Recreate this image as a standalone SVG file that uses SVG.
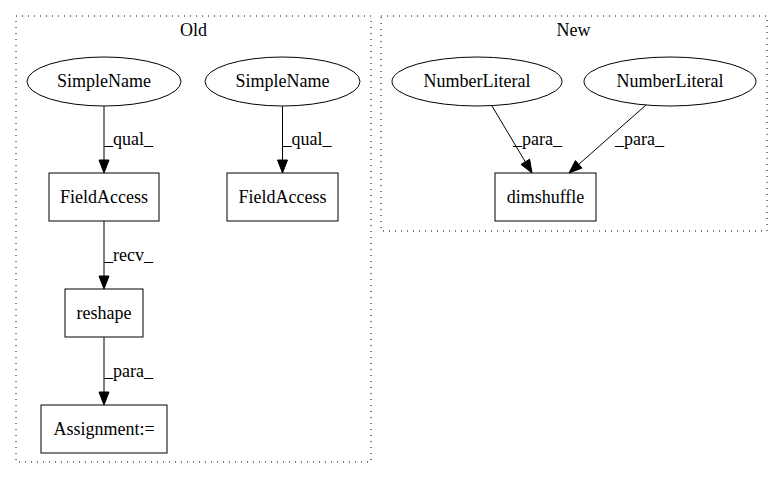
<svg xmlns="http://www.w3.org/2000/svg" width="783" height="480" viewBox="0 0 783 480">
<style>
text{font-family:"Liberation Serif","Times New Roman",serif;font-size:18px;fill:#000}
.c{text-anchor:middle}
.cl{fill:none;stroke:#000;stroke-dasharray:1,5}
.n{fill:none;stroke:#000;stroke-width:1}
.e{fill:none;stroke:#000;stroke-width:1}
.a{fill:#000;stroke:#000}
</style>
<rect width="783" height="480" fill="#fff"/>
<g id="cluster_old">
<rect class="cl" x="16" y="16" width="355" height="446"/>
<text class="c" x="193.5" y="36">Old</text>
</g>
<g id="cluster_new">
<rect class="cl" x="381" y="16" width="386" height="215"/>
<text class="c" x="573.5" y="36">New</text>
</g>
<g id="connectors">
<path class="e" d="M104,106 L104,161"/>
<polygon class="a" points="99,160 104,173 109,160"/>
<text x="104" y="145">_qual_</text>
<path class="e" d="M282.5,106 L282.5,161"/>
<polygon class="a" points="277.5,160 282.5,173 287.5,160"/>
<text x="282.5" y="145">_qual_</text>
<path class="e" d="M104,221 L104,277"/>
<polygon class="a" points="99,276 104,289 109,276"/>
<text x="104" y="261">_recv_</text>
<path class="e" d="M104,337 L104,393"/>
<polygon class="a" points="99,392 104,405 109,392"/>
<text x="104" y="377">_para_</text>
<path class="e" d="M492,106 L526,163"/>
<polygon class="a" points="529.6,159.2 532,173 521,164.4"/>
<text x="513" y="145">_para_</text>
<path class="e" d="M646,105 L578,165"/>
<polygon class="a" points="582,168.1 569,173 575.4,160.6"/>
<text x="615" y="145">_para_</text>
</g>
<g id="sn1"><ellipse class="n" cx="104" cy="81.5" rx="77" ry="24.5"/><text class="c" x="104" y="87">SimpleName</text></g>
<g id="sn2"><ellipse class="n" cx="282.5" cy="81.5" rx="77.5" ry="24.5"/><text class="c" x="282.5" y="87">SimpleName</text></g>
<g id="fa1"><rect class="n" x="49" y="173" width="110" height="48"/><text class="c" x="104" y="203">FieldAccess</text></g>
<g id="fa2"><rect class="n" x="227" y="173" width="111" height="48"/><text class="c" x="282.5" y="203">FieldAccess</text></g>
<g id="reshape"><rect class="n" x="65" y="289" width="78" height="48"/><text class="c" x="104" y="319">reshape</text></g>
<g id="assign"><rect class="n" x="41" y="405" width="126" height="48"/><text class="c" x="104" y="435">Assignment:=</text></g>
<g id="nl1"><ellipse class="n" cx="477" cy="81.5" rx="85" ry="24.5"/><text class="c" x="477" y="87">NumberLiteral</text></g>
<g id="nl2"><ellipse class="n" cx="670" cy="81.5" rx="86" ry="24.5"/><text class="c" x="670" y="87">NumberLiteral</text></g>
<g id="dimshuffle"><rect class="n" x="495" y="173" width="101" height="48"/><text class="c" x="545.5" y="203">dimshuffle</text></g>
</svg>
